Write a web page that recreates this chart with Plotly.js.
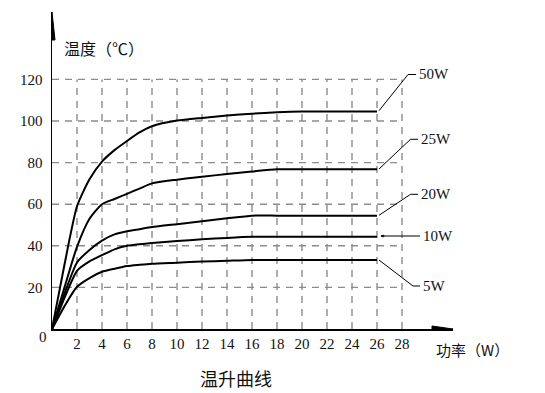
<!DOCTYPE html>
<html>
<head>
<meta charset="utf-8">
<script src="https://cdn.plot.ly/plotly-3.0.1.min.js"></script>
<style>html,body{margin:0;padding:0;background:#fff;}#chart{width:545px;height:393px;}</style>
</head>
<body>
<div id="chart"></div>
<script>
// ---- data ----
const power = [0, 1, 2, 3, 4, 5, 6, 7, 8, 10, 12, 14, 16, 18, 20, 22, 24, 26];
const t50W = [0, 31, 59, 72, 80.5, 86, 90.4, 94.5, 97.5, 100.2, 101.5, 102.6, 103.5, 104.2, 104.6, 104.6, 104.6, 104.6];
const t25W = [0, 20, 39.5, 53, 60, 62.5, 65, 67.5, 70, 71.8, 73.2, 74.5, 75.7, 76.8, 76.8, 76.8, 76.8, 76.8];
const t20W = [0, 17, 32, 38, 42.5, 45.5, 47, 48, 49, 50.4, 51.8, 53.2, 54.5, 54.5, 54.5, 54.5, 54.5, 54.5];
const t10W = [0, 15, 28, 32.5, 35.5, 38.3, 40, 40.8, 41.4, 42.3, 43.1, 43.8, 44.3, 44.3, 44.3, 44.3, 44.3, 44.3];
const t5W  = [0, 11, 20.3, 24.5, 27.5, 29, 30.3, 30.9, 31.4, 31.9, 32.4, 32.8, 33.2, 33.2, 33.2, 33.2, 33.2, 33.2];
const seriesNames = ['50W', '25W', '20W', '10W', '5W'];
const seriesValues = [t50W, t25W, t20W, t10W, t5W];
const xTicks = [2, 4, 6, 8, 10, 12, 14, 16, 18, 20, 22, 24, 26, 28];
const yTicks = [20, 40, 60, 80, 100, 120];
const yTitle = '温度（℃）';
const xTitle = '功率（W）';
const chartTitle = '温升曲线';

// ---- layout geometry (pixels) ----
const L = 52, T = 12, W = 401, H = 317;
const PXX = 12.5, PXY = 2.08;
const X = px => (px - L) / PXX;
const Y = py => (T + H - py) / PXY;
const PX = px => (px - L) / W;          // paper coords
const PY = py => (T + H - py) / H;
const xMax = W / PXX, yMax = H / PXY;
const serif = '"Liberation Serif", "DejaVu Serif", serif';
const cjk = '"Noto Sans CJK SC", "Noto Sans", sans-serif';

const traces = seriesValues.map((vals, i) => ({
  x: power, y: vals, type: 'scatter', mode: 'lines', name: seriesNames[i],
  line: {color: '#000', width: 2, shape: 'spline', smoothing: 0.6},
  hoverinfo: 'skip', cliponaxis: false
}));

const shapes = [];
const gridStyle = {color: '#8c8c8c', width: 1.4, dash: '7px,6px'};
const xEnd = xTicks[xTicks.length - 1], yEnd = yTicks[yTicks.length - 1];
xTicks.forEach(v => shapes.push({type: 'line', xref: 'x', yref: 'y', x0: v, x1: v, y0: 0, y1: yEnd, line: gridStyle, layer: 'below'}));
yTicks.forEach(v => shapes.push({type: 'line', xref: 'x', yref: 'y', x0: 0, x1: xEnd, y0: v, y1: v, line: gridStyle, layer: 'below'}));

// axis arrows
shapes.push({type: 'path', xref: 'x', yref: 'y', fillcolor: '#000', line: {color: '#000', width: 1},
  path: `M ${X(453)} ${Y(329)} L ${X(432)} ${Y(326)} L ${X(432)} ${Y(332)} Z`});
shapes.push({type: 'path', xref: 'x', yref: 'y', fillcolor: '#000', line: {color: '#000', width: 1},
  path: `M ${X(52)} ${Y(12)} L ${X(49)} ${Y(40)} L ${X(55)} ${Y(40)} Z`});

// leader lines (pixel positions)
const leaders = [
  [[379, 110.7], [408, 74.5], [416, 74.5]],
  [[379, 169], [410.5, 139.3], [418, 139.3]],
  [[379, 215.3], [410.5, 194.3], [418, 194.3]],
  [[381, 236], [420, 236]],
  [[379, 260], [413, 286], [420, 286]]
];
const labelPos = [[417, 74], [419, 139], [419, 194], [421, 236], [421, 286]];
leaders.forEach(pts => {
  const p = pts.map((q, k) => (k ? 'L ' : 'M ') + X(q[0]) + ' ' + Y(q[1])).join(' ');
  shapes.push({type: 'path', xref: 'x', yref: 'y', path: p, line: {color: '#000', width: 1}});
});

const annotations = seriesNames.map((n, i) => ({
  x: PX(labelPos[i][0]), y: PY(labelPos[i][1]), xref: 'paper', yref: 'paper', text: n, showarrow: false,
  xanchor: 'left', yanchor: 'middle', font: {family: serif, size: 15, color: '#111'}
}));
annotations.push({x: X(380.5), y: Y(236), xref: 'x', yref: 'y', ax: X(386), ay: Y(236), axref: 'x', ayref: 'y',
  text: '', showarrow: true, arrowhead: 2, arrowsize: 0.6, arrowwidth: 1, arrowcolor: '#000'});
annotations.push({x: PX(62), y: PY(48), xref: 'paper', yref: 'paper', text: yTitle, showarrow: false, xanchor: 'left', yanchor: 'middle',
  font: {family: cjk, size: 16, color: '#111'}});
annotations.push({x: PX(434), y: PY(349), xref: 'paper', yref: 'paper', text: xTitle, showarrow: false, xanchor: 'left', yanchor: 'middle',
  font: {family: cjk, size: 15, color: '#111'}});
annotations.push({x: PX(236), y: PY(378), xref: 'paper', yref: 'paper', text: chartTitle, showarrow: false, xanchor: 'center', yanchor: 'middle',
  font: {family: cjk, size: 18, color: '#111'}});
annotations.push({x: PX(43), y: PY(337), xref: 'paper', yref: 'paper', text: '0', showarrow: false, xanchor: 'center', yanchor: 'middle',
  font: {family: serif, size: 15, color: '#111'}});

const layout = {
  width: 545, height: 393,
  margin: {l: L, r: 545 - L - W, t: T, b: 393 - T - H, pad: 0},
  paper_bgcolor: '#fff', plot_bgcolor: '#fff',
  showlegend: false,
  xaxis: {range: [0, xMax], showgrid: false, zeroline: false, showline: true, linecolor: '#000', linewidth: 1.5,
    tickmode: 'array', tickvals: xTicks, ticktext: xTicks.map(String), ticks: '', ticklabelstandoff: 0,
    tickfont: {family: serif, size: 15, color: '#111'}, fixedrange: true},
  yaxis: {range: [0, yMax], showgrid: false, zeroline: false, showline: true, linecolor: '#000', linewidth: 1.5,
    tickmode: 'array', tickvals: yTicks, ticktext: yTicks.map(String), ticks: '', ticklabelstandoff: 5,
    tickfont: {family: serif, size: 15, color: '#111'}, fixedrange: true},
  shapes: shapes,
  annotations: annotations
};

Plotly.newPlot('chart', traces, layout, {staticPlot: true, displayModeBar: false});
</script>
</body>
</html>
